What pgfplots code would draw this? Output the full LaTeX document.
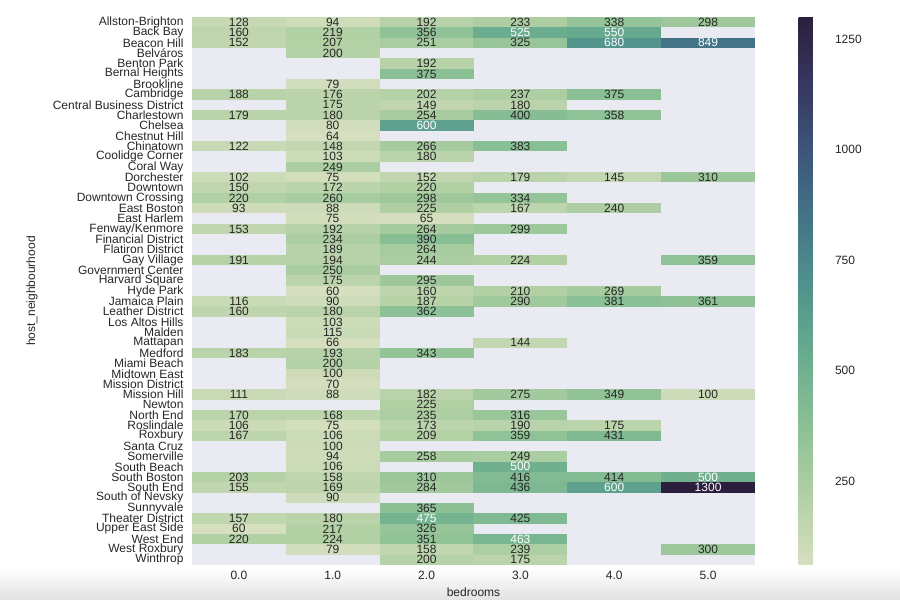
\documentclass[border=0pt]{standalone}
\usepackage{fontspec}
\setmainfont{Liberation Sans}
\usepackage{pgfplots}
\pgfplotsset{compat=1.18}
\usepackage{pgfplotstable}
\definecolor{bgc}{RGB}{234,234,242}
\definecolor{txt}{RGB}{38,38,38}
\definecolor{shad}{RGB}{226,226,226}
\pgfkeys{/pgf/number format/assume math mode=true, /pgf/number format/1000 sep={}}
\pgfdeclareplotmark{cell}{%
  \pgfpathrectangle{\pgfqpoint{-46.97pt}{-5.20pt}}{\pgfqpoint{93.94pt}{10.40pt}}%
  \pgfusepathqfill}
\newcommand\lbl{\fontsize{12}{12}\selectfont}
\pgfplotstableread{
x y v w
0 0 128 0
1 0 94 0
2 0 192 0
3 0 233 0
4 0 338 0
5 0 298 0
0 1 160 0
1 1 219 0
2 1 356 0
3 1 525 1
4 1 550 1
0 2 152 0
1 2 207 0
2 2 251 0
3 2 325 0
4 2 680 1
5 2 849 1
1 3 200 0
2 4 192 0
2 5 375 0
1 6 79 0
0 7 188 0
1 7 176 0
2 7 202 0
3 7 237 0
4 7 375 0
1 8 175 0
2 8 149 0
3 8 180 0
0 9 179 0
1 9 180 0
2 9 254 0
3 9 400 0
4 9 358 0
1 10 80 0
2 10 600 1
1 11 64 0
0 12 122 0
1 12 148 0
2 12 266 0
3 12 383 0
1 13 103 0
2 13 180 0
1 14 249 0
0 15 102 0
1 15 75 0
2 15 152 0
3 15 179 0
4 15 145 0
5 15 310 0
0 16 150 0
1 16 172 0
2 16 220 0
0 17 220 0
1 17 260 0
2 17 298 0
3 17 334 0
0 18 93 0
1 18 88 0
2 18 225 0
3 18 167 0
4 18 240 0
1 19 75 0
2 19 65 0
0 20 153 0
1 20 192 0
2 20 264 0
3 20 299 0
1 21 234 0
2 21 390 0
1 22 189 0
2 22 264 0
0 23 191 0
1 23 194 0
2 23 244 0
3 23 224 0
5 23 359 0
1 24 250 0
1 25 175 0
2 25 295 0
1 26 60 0
2 26 160 0
3 26 210 0
4 26 269 0
0 27 116 0
1 27 90 0
2 27 187 0
3 27 290 0
4 27 381 0
5 27 361 0
0 28 160 0
1 28 180 0
2 28 362 0
1 29 103 0
1 30 115 0
1 31 66 0
3 31 144 0
0 32 183 0
1 32 193 0
2 32 343 0
1 33 200 0
1 34 100 0
1 35 70 0
0 36 111 0
1 36 88 0
2 36 182 0
3 36 275 0
4 36 349 0
5 36 100 0
2 37 225 0
0 38 170 0
1 38 168 0
2 38 235 0
3 38 316 0
0 39 106 0
1 39 75 0
2 39 173 0
3 39 190 0
4 39 175 0
0 40 167 0
1 40 106 0
2 40 209 0
3 40 359 0
4 40 431 0
1 41 100 0
1 42 94 0
2 42 258 0
3 42 249 0
1 43 106 0
3 43 500 1
0 44 203 0
1 44 158 0
2 44 310 0
3 44 416 0
4 44 414 0
5 44 500 1
0 45 155 0
1 45 169 0
2 45 284 0
3 45 436 0
4 45 600 1
5 45 1300 1
1 46 90 0
2 47 365 0
0 48 157 0
1 48 180 0
2 48 475 1
3 48 425 0
0 49 60 0
1 49 217 0
2 49 326 0
0 50 220 0
1 50 224 0
2 50 351 0
3 50 463 1
1 51 79 0
2 51 158 0
3 51 239 0
5 51 300 0
2 52 200 0
3 52 175 0
}\cells
\begin{document}
\begin{tikzpicture}
\shade[top color=white, bottom color=shad] (0,0) rectangle (900pt,32pt);
\path[use as bounding box] (0,0) rectangle (900pt,600pt);
\begin{axis}[
  at={(192pt,35pt)}, anchor=south west, scale only axis,
  width=563pt, height=548pt,
  xmin=-0.5, xmax=5.5, ymin=-0.5, ymax=52.5, y dir=reverse,
  axis background/.style={fill=bgc},
  axis line style={draw=none}, major tick length=0pt,
  xtick={0,1,2,3,4,5}, xticklabels={0.0,1.0,2.0,3.0,4.0,5.0},
  ytick={0,...,52},
  yticklabels={Allston-Brighton,Back Bay,Beacon Hill,Belváros,Benton Park,Bernal Heights,Brookline,Cambridge,Central Business District,Charlestown,Chelsea,Chestnut Hill,Chinatown,Coolidge Corner,Coral Way,Dorchester,Downtown,Downtown Crossing,East Boston,East Harlem,Fenway/Kenmore,Financial District,Flatiron District,Gay Village,Government Center,Harvard Square,Hyde Park,Jamaica Plain,Leather District,Los Altos Hills,Malden,Mattapan,Medford,Miami Beach,Midtown East,Mission District,Mission Hill,Newton,North End,Roslindale,Roxbury,Santa Cruz,Somerville,South Beach,South Boston,South End,South of Nevsky,Sunnyvale,Theater District,Upper East Side,West End,West Roxbury,Winthrop},
  xticklabel style={font=\lbl, text=txt, yshift=-3pt},
  yticklabel style={font=\lbl, text=txt, xshift=-5pt},
  xlabel={bedrooms}, ylabel={host\_neighbourhood},
  every axis x label/.style={at={(axis description cs:0.5,0)}, anchor=center, yshift=-27pt, font=\lbl, text=txt},
  every axis y label/.style={at={(axis description cs:0,0.5)}, rotate=90, anchor=center, yshift=160pt, font=\lbl, text=txt},
  colormap={ch}{rgb255=(214,223,192) rgb255=(178,208,164) rgb255=(140,193,149) rgb255=(107,173,142) rgb255=(83,148,141) rgb255=(68,118,136) rgb255=(61,87,122) rgb255=(55,56,97) rgb255=(44,31,62)},
  point meta min=60, point meta max=1300,
  colorbar,
  colorbar style={
    at={(parent axis.north east)}, anchor=north west, xshift=35pt,
    width=36pt,
    ytick={250,500,750,1000,1250},
    yticklabel style={font=\lbl, text=txt, xshift=-3pt, /pgf/number format/1000 sep={}},
    axis line style={draw=none}, major tick length=0pt,
  },
]
\addplot[scatter, only marks, mark=cell, point meta=explicit]
  table[x=x, y=y, meta=v] {\cells};
\addplot[draw=none, mark=none, point meta=explicit,
  restrict expr to domain={\thisrow{w}}{0:0.5},
  nodes near coords={\pgfmathprintnumber[fixed,precision=0,1000 sep={}]{\pgfplotspointmeta}},
  nodes near coords style={anchor=center, font=\lbl, text=txt, inner sep=0pt},
] table[x=x, y=y, meta=v] {\cells};
\addplot[draw=none, mark=none, point meta=explicit,
  restrict expr to domain={\thisrow{w}}{0.5:1.5},
  nodes near coords={\pgfmathprintnumber[fixed,precision=0,1000 sep={}]{\pgfplotspointmeta}},
  nodes near coords style={anchor=center, font=\lbl, text=white, inner sep=0pt},
] table[x=x, y=y, meta=v] {\cells};
\end{axis}
\end{tikzpicture}
\end{document}
